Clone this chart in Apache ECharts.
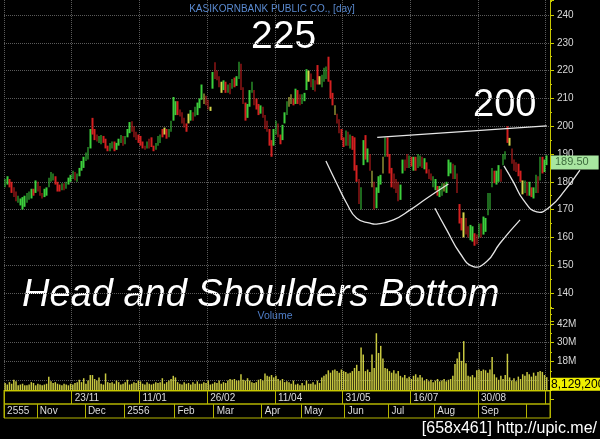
<!DOCTYPE html>
<html><head><meta charset="utf-8">
<script src="https://cdn.jsdelivr.net/npm/echarts@6/dist/echarts.min.js"></script>
<style>html,body{margin:0;padding:0;background:#000}#c{width:600px;height:439px}</style>
</head><body><div id="c"></div>
<script>
// ---- data ----
const slots = Array.from({length: 250}, (_, i) => String(i)); // trading-day slots

const openPrices = [
178,179,181,180,178,176.5,172.5,171.5,170,171,
172.5,173.5,174,177.5,176,180,178.5,176,174.5,175,
178,180,180.5,182,180,179,177,179.5,177.5,179,
180,181,183.5,180,182,184,185,187.5,188,192,
203,199,197,194,193.5,196.5,195.5,193,191,192,
194.5,191.5,193,194,196.5,193.5,196,197.5,201.8,200,
198,197,196.5,194.5,193,192,195.5,196,193,191.5,
193,194,199,197,199,196,198,202,204,209,
206,205,203,201,201,202,205,203.5,204,206.5,
209.5,211.8,211,209.5,207,213.5,223,220,218,212,
213,216,212,215.5,213.5,217.5,214.5,217,222.5,214,
208.5,203,207,212,213,210,208,204.5,207,204,
202,199,195,193,197,201,197,195,201,204,
207,211.5,210,208,213,211.5,208,209,213,216,
219,213,216.5,222,215,214,216,217,225,216.5,
212,207.5,204.5,202.5,199,196,193,198,192,196.5,
196,186,181,170,186,196.8,187,190,184,180,
170.5,176,179,183,189,196,190,185,183,181,
180,173.5,183,188,190,185,189,184,189,185,
185.5,189,184.5,187,184.5,183,178,177,178.5,174.5,
175,179.5,176,182,183,186.5,181,183,172,167,
169,167,164,159,158.5,161.5,161,160,165,161,
162,168,170,178,184,179,180,184.5,186,188,
200,195.8,192,188,187,186.5,184,180.5,176,180,
175,178,174,176,182,180.5,189,183.5,186
];
const closePrices = [
181,182,178,176,174.5,173,175,174,174.5,175,
176,176.5,177.5,175,180.5,176.5,175,174,177.5,178,
181.5,183.5,183,179,176.5,176.5,179.5,177,180,181.5,
182.5,184,180.5,183,185,187.5,189,190.5,192.5,199,
197,195,194.5,196.5,196.8,194,192,191,194,194.5,
191,194,195.5,196.8,193,196.5,199,201.5,198,196,
195,194,193,192,191.5,194.5,192,192.5,191,194,
196.5,197,196,199.5,195.5,199,202,210.5,209,204,
203.5,201,199.5,198,204.5,205.8,202,207,208.5,210,
215,208,207.5,206,205.5,219.5,217,216.5,214,216,
216.5,212,215,211.5,217,214,218,223.2,213,208,
202,208,213,216,207.5,206,204,207.5,203,199,
198,193,189,199,202,196,193.5,200.5,205,209,
210.5,208,207.5,213.5,208,207.5,211.5,212,220.5,220,
214,217,212.5,215,218,218.5,221,221.5,216,210,
207.5,204,201,197.5,195,192.5,198.5,193,197,191.5,
184,180,172,178,195,188,192,184,178,170,
178,182,182.5,189,196,189,183,178,177.5,176,
173,179,188,184,185,189.5,185.5,189,184,190,
189.5,185,188.5,183,181,180.5,182,181,175,178.5,
179.5,176.5,180,188,187,181,186,176,165,162.5,
160,161,160,164.5,164,157,157.5,165,160,167.5,
167,176,176,185,179.5,184,186,180,190,191,
194,193,186.5,184,183.5,182,180,175.5,180.5,175,
180,174.5,178,182.5,176,189,183,188,189.5
];
// bars drawn in yellow (unchanged-type bars)
const flatBars = [73,84,91,94,99,130,131,139,144,151,168,173,201,210,231,237];

// volume in millions of shares
const volumes = [
4.5,3.5,5,4,6.5,5.5,3,3.5,4,3,
3,3.5,5,4.5,3,4,3.5,3,3.5,4,
8.5,5.5,4.5,5,4,3.5,3,4,3.5,3,
4,3.5,4.5,5,6.5,5,7.5,4,6,9.5,
9.5,7,6,8,4,3.5,10.5,5,4.5,5,
4,6,5,3.5,4,5,6.5,3.5,4,5,
4.5,6,5.5,4,3.5,5,4,3.5,4,5,
4.5,5,7.5,4,5,6,7,9,8,5,
4,3.5,5,4,4.5,3.5,5,4,5.5,4,
4,5,4.5,6,3.5,4,5,4.5,6,4,
5,4.5,6,7,6.5,7,6,6,10,6.5,
6,7.5,6,5,4.5,5,6.5,7,6,10.5,
9,8.5,9.5,8,9,7,6,7,5,5.5,
5,4,6,3.5,4,3,4.5,3,6,4,
4,5,3.5,6,4.5,8,9,10,12.5,11,
12.5,13,12,11,13,12,11.5,10.5,11,12,
14,16,12,27,22.5,12,13,11.5,22.5,14,
36,23.5,28,20,14,13.5,12,11,12.5,10.5,
12,9,8,9.5,7.5,8.5,7,9,10,8,
9.5,8,6,7,5.5,6.5,5,6,7,5.5,
6,7,5.5,6.5,7,9,16.5,20,24,18.5,
31,17,9,8.5,9.5,8,12.5,13,12,13,
12.5,11,13,21,10,8,6.5,9,7,9.5,
23,8,6,7.5,5.5,8.5,7,10,9,11.5,
10,8.5,11,9,11.5,12,11.5,9.5,8.1292
];
const lastPrice = 189.50;
const lastVolume = 8129200;

// date scale tick labels
const weekLabels = ['23/11','11/01','26/02','11/04','31/05','16/07','30/08'];
const weekIdx    = [31,62,93,124,155,186,217];
const weekSplits = [0,31,62,93,124,155,186,217,248];
const monthLabels = ['2555','Nov','Dec','2556','Feb','Mar','Apr','May','Jun','Jul','Aug','Sep'];
const monthIdx    = [0,15,37,55,78,96,118,136,156,176,197,217];
const monthSplits = [0,15,37,55,78,96,118,136,156,176,197,217,239];
const volumeTickLabels = {18:'18M', 30:'30M', 42:'42M'};

// hand-drawn pattern lines, as [bar slot, price]
const neckline = [[170.4,196.0],[248.0,200.1]];
const leftShoulder = [[146.9,187.5],[151.8,179.5],[156.4,172.3],[161.0,166.9],[167.1,165.1],[170.1,164.8],[177.8,166.3],[185.5,169.9],[193.1,174.1],[203.0,179.2]];
const headCurve = [[196.8,170.5],[202.2,162.7],[208.3,154.3],[214.4,149.5],[220.5,151.3],[226.6,157.9],[235.8,166.3]];
const rightShoulder = [[228.4,185.7],[232.7,180.0],[237.3,173.5],[243.4,169.2],[249.5,171.0],[256.4,177.0],[263.2,184.2]];

// ---- build ----
const GREEN = '#3ccf3c', RED = '#d42020', YEL = '#d4d44a';
const candles = openPrices.map((o, i) => {
  const c = closePrices[i];
  const col = flatBars.includes(i) ? YEL : (c >= o ? GREEN : RED);
  return {value: [o, c, Math.min(o, c), Math.max(o, c)],
          itemStyle: {color: col, color0: col, borderColor: col, borderColor0: col}};
});

const FONT = '"Liberation Sans", Arial, sans-serif';
const gridLine = {show: true, lineStyle: {color: '#5a5a5a', type: 'dotted', width: 1}};
const yellowAxis = '#c8c800';
const hiddenLine = {color: 'rgba(0,0,0,0)', width: 0};

function dateRowAxis(gridIndex, idx, labels, splits) {
  return {type: 'category', gridIndex, data: slots, position: 'top',
    axisLine: {show: false}, axisTick: {show: false},
    axisLabel: {inside: true, margin: 2, interval: (i) => idx.includes(i), align: 'left',
      padding: [0, 0, 0, 2], color: '#dcdcdc', fontSize: 10, fontFamily: FONT,
      formatter: (v) => { const k = idx.indexOf(Number(v)); return k >= 0 ? labels[k] : ''; }},
    splitLine: {show: true, interval: (i) => splits.includes(i), lineStyle: {color: '#b4b400', width: 1}}};
}

const chart = echarts.init(document.getElementById('c'), null, {renderer: 'canvas'});
chart.setOption({
  backgroundColor: '#000',
  animation: false,
  textStyle: {fontFamily: FONT},
  grid: [
    {left: 4, right: 50, top: 0, height: 320.8},
    {left: 4, right: 50, top: 308, height: 91.5},
    {left: 4, right: 50, top: 391, height: 13, show: true, borderColor: '#b4b400', borderWidth: 1},
    {left: 4, right: 50, top: 404, height: 14, show: true, borderColor: '#b4b400', borderWidth: 1}
  ],
  xAxis: [
    {type: 'category', gridIndex: 0, data: slots, axisLine: {show: false}, axisTick: {show: false},
     axisLabel: {show: false}, splitLine: Object.assign({interval: (i) => weekSplits.includes(i)}, gridLine)},
    {type: 'value', gridIndex: 0, min: -0.5, max: 249.5, show: false, position: 'top'},
    {type: 'category', gridIndex: 1, data: slots, position: 'top',
     axisLine: {show: true, lineStyle: {color: yellowAxis, width: 1}}, axisTick: {show: false},
     axisLabel: {show: false}, splitLine: Object.assign({interval: (i) => weekSplits.includes(i)}, gridLine)},
    dateRowAxis(2, weekIdx, weekLabels, weekSplits),
    dateRowAxis(3, monthIdx, monthLabels, monthSplits)
  ],
  yAxis: [
    {type: 'value', gridIndex: 0, position: 'right', min: 130, max: 245.4, interval: 10,
     axisLine: {show: true, onZero: false, lineStyle: {color: yellowAxis, width: 1}},
     axisTick: {show: true, length: 4, lineStyle: {color: yellowAxis}},
     minorTick: {show: true, splitNumber: 2, length: 2, lineStyle: {color: yellowAxis}},
     axisLabel: {color: '#d8d8d8', fontSize: 10, margin: 7, fontFamily: FONT,
       formatter: (v) => (v >= 140 && v <= 240 && Number.isInteger(v)) ? String(v) : ''},
     splitLine: Object.assign({showMinLine: false, showMaxLine: false}, gridLine)},
    {type: 'value', gridIndex: 1, position: 'right', min: -6, max: 52, interval: 12,
     axisLine: {show: true, onZero: false, lineStyle: {color: yellowAxis, width: 1}},
     axisTick: {show: true, length: 4, lineStyle: {color: yellowAxis}},
     minorTick: {show: true, splitNumber: 2, length: 2, lineStyle: {color: yellowAxis}},
     axisLabel: {color: '#d8d8d8', fontSize: 10, margin: 7, fontFamily: FONT,
       formatter: (v) => volumeTickLabels[v] || ''},
     splitLine: Object.assign({showMinLine: false, showMaxLine: false}, gridLine)},
    {type: 'value', gridIndex: 2, show: false},
    {type: 'value', gridIndex: 3, show: false}
  ],
  series: [
    {type: 'candlestick', name: 'KBANK', xAxisIndex: 0, yAxisIndex: 0, data: candles,
     barWidth: 2, itemStyle: {borderWidth: 0},
     markLine: {silent: true, symbol: 'none', data: [{yAxis: lastPrice}], lineStyle: hiddenLine,
       label: {show: true, position: 'end', distance: 1, formatter: lastPrice.toFixed(2), offset: [0, 7],
         backgroundColor: '#a8e6a0', color: '#3d6b3d', fontSize: 11, fontFamily: FONT,
         padding: [2, 10, 1, 4]}}},
    {type: 'bar', name: 'Volume', xAxisIndex: 2, yAxisIndex: 1, data: volumes, barWidth: 1.5,
     itemStyle: {color: '#c8c840'},
     markLine: {silent: true, symbol: 'none', data: [{yAxis: lastVolume / 1e6}], lineStyle: hiddenLine,
       label: {show: true, position: 'end', distance: 0, formatter: lastVolume.toLocaleString('en-US'), offset: [0, 7],
         backgroundColor: '#f0f000', color: '#000', fontSize: 12, fontFamily: FONT, padding: [1, 4, 0, 1]}}}
  ],
  graphic: [
    {type: 'text', x: 272, y: 9, style: {text: 'KASIKORNBANK PUBLIC CO., [day]', fill: '#5a8ad0',
      font: '10px ' + FONT, textAlign: 'center', textVerticalAlign: 'middle'}},
    {type: 'text', x: 275, y: 316, style: {text: 'Volume', fill: '#4f7ec8',
      font: '10.5px ' + FONT, textAlign: 'center', textVerticalAlign: 'middle'}},
    {type: 'text', x: 251, y: 37, style: {text: '225', fill: '#ffffff',
      font: '39px ' + FONT, textAlign: 'left', textVerticalAlign: 'middle'}},
    {type: 'text', x: 473, y: 106, style: {text: '200', fill: '#ffffff',
      font: '38px ' + FONT, textAlign: 'left', textVerticalAlign: 'middle'}},
    {type: 'text', x: 22, y: 295, style: {text: 'Head and Shoulders Bottom', fill: '#ffffff',
      font: 'italic 38px ' + FONT, textAlign: 'left', textVerticalAlign: 'middle'}},
    {type: 'text', x: 597, y: 429, style: {text: '[658x461] http://upic.me/', fill: '#ffffff',
      font: '16px ' + FONT, textAlign: 'right', textVerticalAlign: 'middle'}}
  ]
});

// pattern lines drawn through the chart's own scales (they run past the plot edge)
const toPx = (pts) => pts.map(p => chart.convertToPixel({xAxisIndex: 1, yAxisIndex: 0}, p));
const curves = [neckline, leftShoulder, headCurve, rightShoulder].map((pts, k) => ({
  type: 'polyline', id: 'pattern' + k, z: 50, silent: true,
  shape: {points: toPx(pts), smooth: pts.length > 2 ? 0.5 : 0},
  style: {stroke: '#e6e6e6', lineWidth: 1.3, fill: null}
}));
chart.setOption({graphic: curves});
</script></body></html>
